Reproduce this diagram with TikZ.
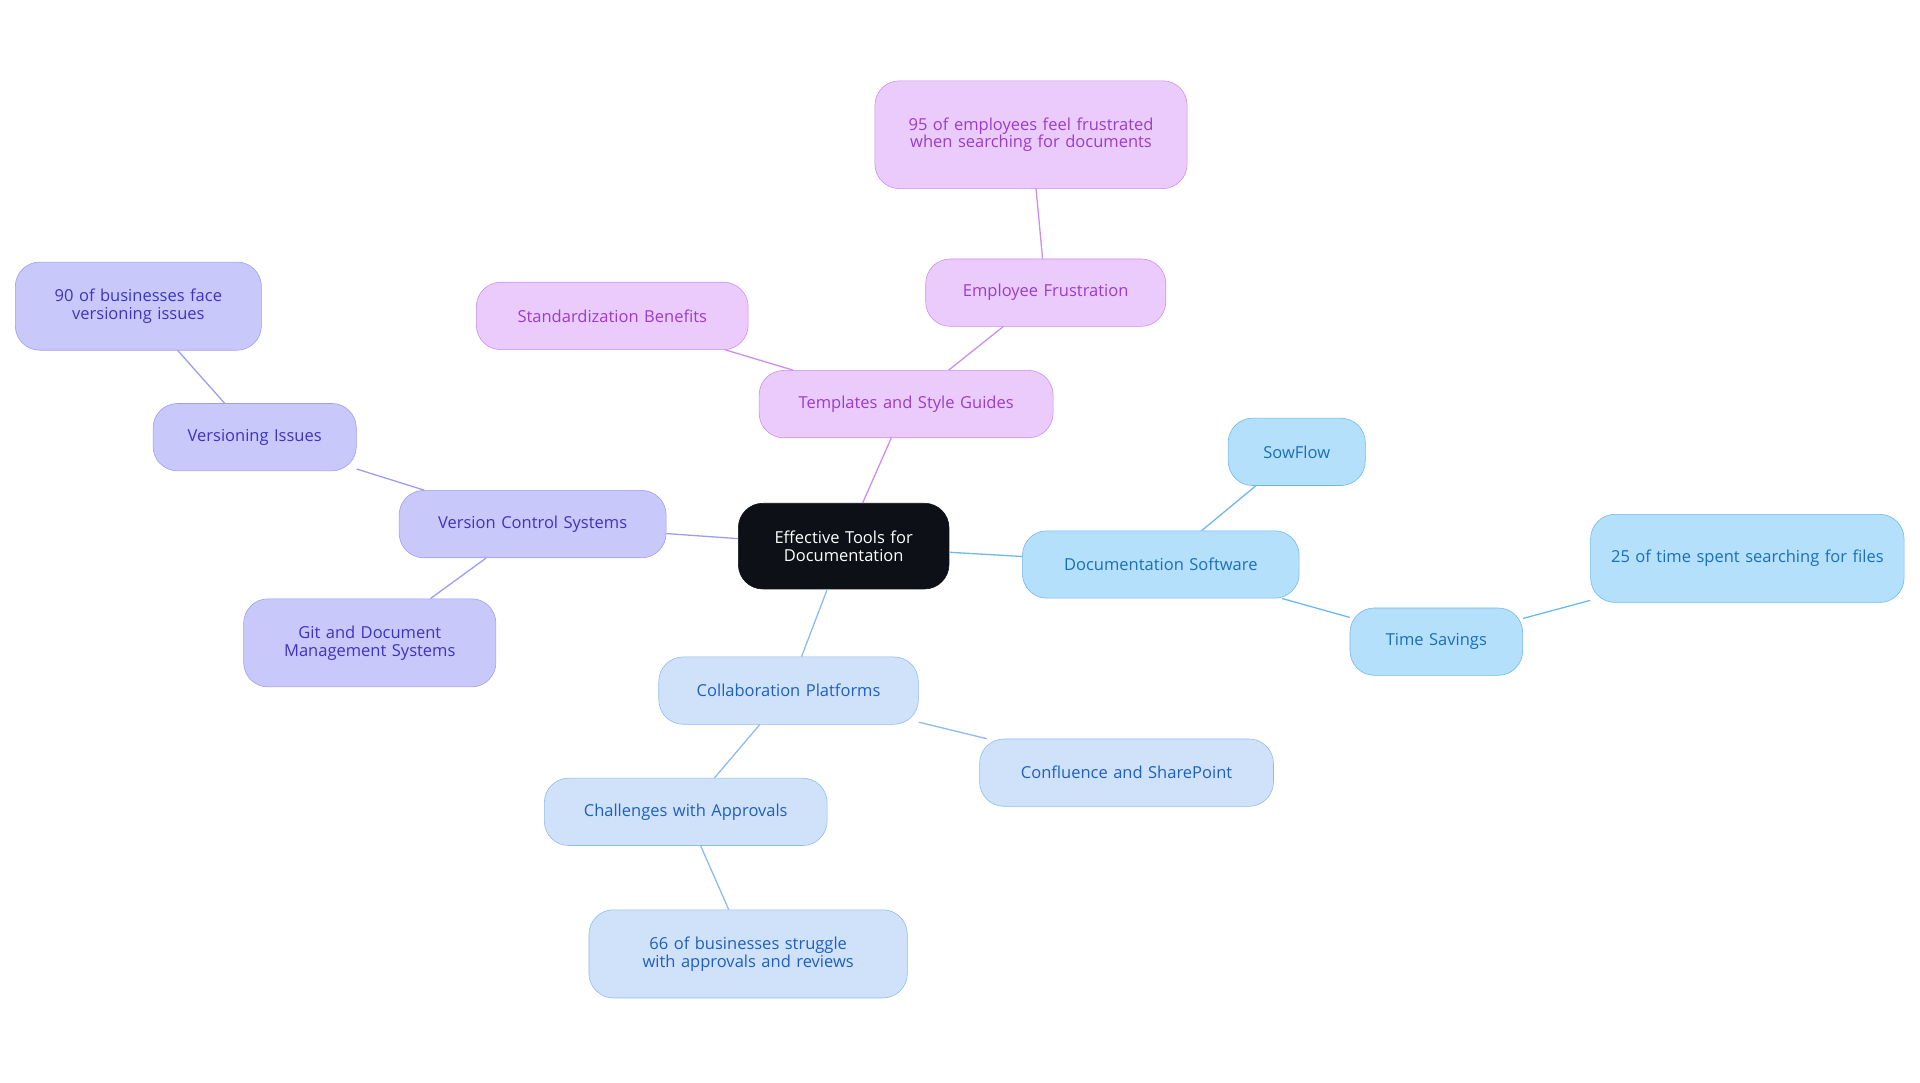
\documentclass[tikz,border=0pt]{standalone}
\usepackage{fontspec}
\setmainfont{Open Sans}
\definecolor{rootfill}{HTML}{0D1117}
\definecolor{softfill}{HTML}{B4E0FC}\definecolor{softline}{HTML}{6CB8F0}\definecolor{softtext}{HTML}{1A6FB8}
\definecolor{collfill}{HTML}{CFE2FA}\definecolor{collline}{HTML}{8DBAF0}\definecolor{colltext}{HTML}{1F5FBF}
\definecolor{versfill}{HTML}{C9C8FA}\definecolor{versline}{HTML}{9E9CF0}\definecolor{verstext}{HTML}{3B34C4}
\definecolor{tempfill}{HTML}{EBCBFB}\definecolor{templine}{HTML}{CC8CF0}\definecolor{temptext}{HTML}{9A3CCC}
\begin{document}
\begin{tikzpicture}[x=0.03cm, y=-0.03cm, font=\fontsize{11.5}{12.5}\selectfont]
      % one box per idea; W and H give its size in pixels
      \tikzset{%
        idea/.style={rounded corners=0.6cm, draw, align=center, inner sep=0pt},
        size/.style 2 args={minimum width=#1*0.03cm, minimum height=#2*0.03cm, text width=#1*0.03cm-0.8cm},
        soft/.style={idea, fill=softfill, draw=softline, text=softtext},
        coll/.style={idea, fill=collfill, draw=collline, text=colltext},
        vers/.style={idea, fill=versfill, draw=versline, text=verstext},
        temp/.style={idea, fill=tempfill, draw=templine, text=temptext},
        link/.style={line width=0.9pt},
      }
      \useasboundingbox (0,0) rectangle (1568,884);

      \node[idea, fill=rootfill, draw=rootfill, text=white, size={172}{70}] (root) at (689,446) {Effective Tools for Documentation};

      % documentation software branch
      \node[soft, size={226}{55}] (docsoft) at (948,461) {Documentation Software};
      \node[soft, size={112}{55}] (sowflow) at (1059,369) {SowFlow};
      \node[soft, size={141}{55}] (timesav) at (1173,524) {Time Savings};
      \node[soft, size={256}{72}] (timefact) at (1427,456) {25 of time spent searching for files};

      % collaboration branch
      \node[coll, size={212}{55}] (collab) at (644,564) {Collaboration Platforms};
      \node[coll, size={240}{55}] (confl) at (920,631) {Confluence and SharePoint};
      \node[coll, size={231}{55}] (approv) at (560,663) {Challenges with Approvals};
      \node[coll, size={260}{72}] (approvfact) at (611,779) {66 of businesses struggle with approvals and reviews};

      % version control branch
      \node[vers, size={218}{55}] (vcs) at (435,428) {Version Control Systems};
      \node[vers, size={166}{55}] (versiss) at (208,357) {Versioning Issues};
      \node[vers, size={201}{72}] (versfact) at (113,250) {90 of businesses face versioning issues};
      \node[vers, size={206}{72}] (git) at (302,525) {Git and Document Management Systems};

      % templates branch
      \node[temp, size={240}{55}] (templ) at (740,330) {Templates and Style Guides};
      \node[temp, size={222}{55}] (stand) at (500,258) {Standardization Benefits};
      \node[temp, size={196}{55}] (frust) at (854,239) {Employee Frustration};
      \node[temp, size={255}{88}] (frustfact) at (842,110) {95 of employees feel frustrated when searching for documents};

      \begin{scope}[on background layer/.style={}]
        \draw[link, softline] (root) -- (docsoft);
        \draw[link, softline] (docsoft) -- (sowflow);
        \draw[link, softline] (docsoft) -- (timesav);
        \draw[link, softline] (timesav) -- (timefact);
        \draw[link, collline] (root) -- (collab);
        \draw[link, collline] (collab) -- (confl);
        \draw[link, collline] (collab) -- (approv);
        \draw[link, collline] (approv) -- (approvfact);
        \draw[link, versline] (root) -- (vcs);
        \draw[link, versline] (vcs) -- (versiss);
        \draw[link, versline] (versiss) -- (versfact);
        \draw[link, versline] (vcs) -- (git);
        \draw[link, templine] (root) -- (templ);
        \draw[link, templine] (templ) -- (stand);
        \draw[link, templine] (templ) -- (frust);
        \draw[link, templine] (frust) -- (frustfact);
      \end{scope}
    \end{tikzpicture}
\end{document}
